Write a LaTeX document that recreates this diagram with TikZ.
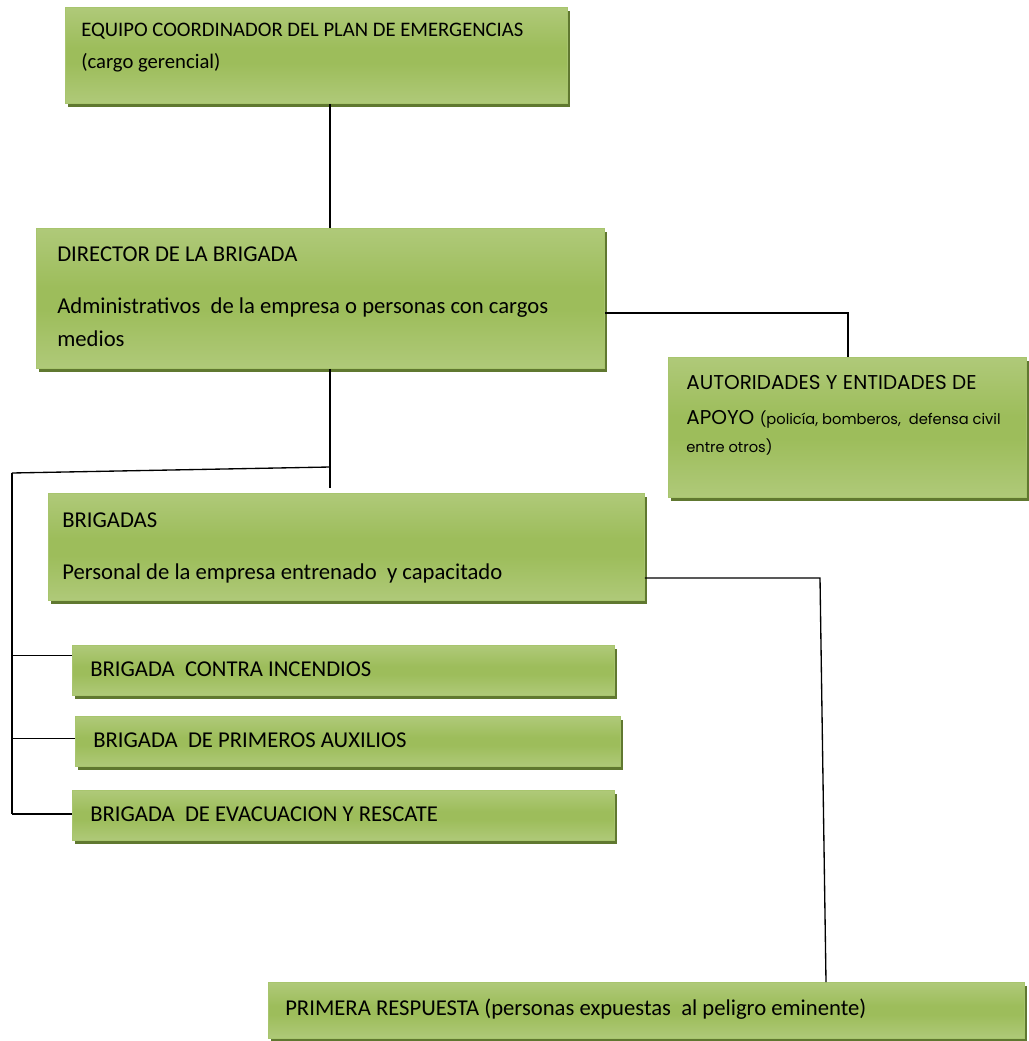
\documentclass[tikz,border=0pt]{standalone}
\usepackage{fontspec}
\setmainfont{Carlito}
\newfontfamily\gotica{Poppins}
\usetikzlibrary{shadows,positioning}
\definecolor{verdeclaro}{RGB}{197,216,157}
\definecolor{verdemedio}{RGB}{157,189,91}
\definecolor{bordeverde}{RGB}{168,197,110}
\definecolor{sombra}{RGB}{96,120,48}
\pgfdeclareverticalshading{verdecaja}{100bp}{color(0bp)=(verdeclaro); color(46bp)=(verdemedio); color(54bp)=(verdemedio); color(100bp)=(verdeclaro)}
\tikzstyle{caja}=[draw=bordeverde, line width=0.6pt, shading=verdecaja, anchor=north west, inner sep=0pt,
                drop shadow={shadow xshift=2.2pt, shadow yshift=-2.6pt, fill=sombra, opacity=1}]
\tikzstyle{texto}=[anchor=base west, inner sep=0pt, font=\fontsize{17}{19}\selectfont]
\tikzstyle{linea}=[draw=black, line width=1pt]
\def\unidad{0.75pt}

\begin{document}
\begin{tikzpicture}[x=\unidad, y=-\unidad]
    \useasboundingbox (0,0) rectangle (1028,1041);

    % caja del equipo coordinador
    \node[caja, minimum width={502*\unidad}, minimum height={96*\unidad}] (coord) at (65,7) {};
    \node[texto, font=\fontsize{15.5}{17}\selectfont] (coordT) at (81,37) {EQUIPO COORDINADOR DEL PLAN DE EMERGENCIAS};
    \node[texto, font=\fontsize{15.5}{17}\selectfont] (coordS) at (81,69) {(cargo gerencial)};

    % caja del director
    \node[caja, minimum width={568*\unidad}, minimum height={140*\unidad}] (dir) at (36,228) {};
    \node[texto] (dirT) at (57,261) {DIRECTOR DE LA BRIGADA};
    \node[texto] (dirS) at (57,313) {Administrativos~ de la empresa o personas con cargos};
    \node[texto] (dirU) at (57,346) {medios};

    % caja de autoridades
    \node[caja, minimum width={358*\unidad}, minimum height={140*\unidad}] (aut) at (668,357) {};
    \node[texto, font=\gotica\fontsize{15}{17}\selectfont] (autT) at (686,389) {AUTORIDADES Y ENTIDADES DE};
    \node[texto, font=\gotica\fontsize{15}{17}\selectfont] (autS) at (686,424)
        {APOYO {\fontsize{11}{13}\selectfont (policía, bomberos,~ defensa civil}};
    \node[texto, font=\gotica\fontsize{11}{13}\selectfont] (autU) at (686,452) {entre otros)};

    % caja de brigadas
    \node[caja, minimum width={596*\unidad}, minimum height={107*\unidad}] (brig) at (48,493) {};
    \node[texto] (brigT) at (62,527) {BRIGADAS};
    \node[texto] (brigS) at (62,579) {Personal de la empresa entrenado~ y capacitado};

    % las tres brigadas
    \foreach \name/\x/\y/\w/\txt in {inc/72/645/542/BRIGADA~ CONTRA INCENDIOS,
                                     aux/75/716/545/BRIGADA~ DE PRIMEROS AUXILIOS,
                                     eva/72/790/542/BRIGADA~ DE EVACUACION Y RESCATE}
    {
        \node[caja, minimum width={\w*\unidad}, minimum height={50*\unidad}] (\name) at (\x,\y) {};
        \node[texto] (\name T) at (\x+18,\y+31) {\txt};
    }

    % primera respuesta
    \node[caja, minimum width={756*\unidad}, minimum height={56*\unidad}] (pri) at (268,982) {};
    \node[texto] (priT) at (285,1015) {PRIMERA RESPUESTA (personas expuestas~ al peligro eminente)};

    %conexiones
    \coordinate (eje) at (330,0);
    \coordinate (codoA) at (848,313);
    \coordinate (nudo) at (330,467);
    \coordinate (esq) at (12,473);
    \coordinate (codoB) at (820,578);
    \coordinate (codoC) at (826,982);

    \draw[linea] (coord.south -| eje) -- (dir.north -| eje);
    \draw[linea] (dir.east |- codoA) -- (codoA) -- (aut.north -| codoA);
    \draw[linea] (dir.south -| eje) -- ([yshift=4pt]brig.north -| eje);
    \draw[linea] (nudo) -- (esq);

    % ramas hacia las brigadas
    \foreach \name/\dy in {inc/11pt, aux/2pt, eva/1pt}
    {
        \path ([yshift=\dy]\name.west) coordinate (r\name);
        \draw[linea] (r\name -| esq) -- (r\name);
    }
    \draw[linea] (esq) -- (esq |- reva);

    \draw[linea] (brig.east |- codoB) -- (codoB) -- (pri.north -| codoC);
\end{tikzpicture}
\end{document}
